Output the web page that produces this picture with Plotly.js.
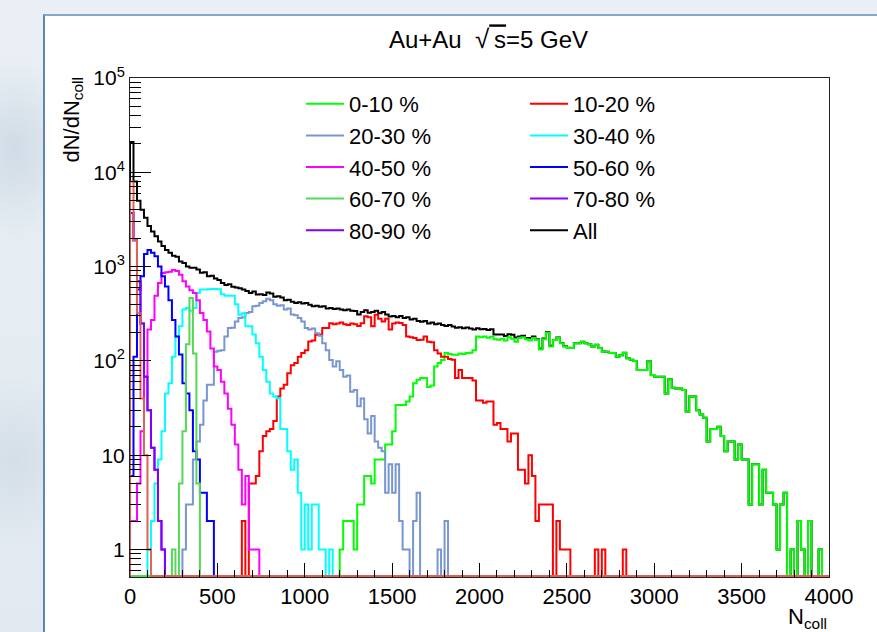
<!DOCTYPE html>
<html>
<head>
<meta charset="utf-8">
<script src="https://cdn.plot.ly/plotly-3.0.1.min.js"></script>
<style>
html, body { margin:0; padding:0; width:877px; height:632px; overflow:hidden;
  background: radial-gradient(ellipse 60px 90px at 15px 150px, #cfdbe6 0%, rgba(207,219,230,0) 100%),
              radial-gradient(ellipse 60px 90px at 15px 460px, #d3dee8 0%, rgba(211,222,232,0) 100%),
              linear-gradient(180deg, #e9eff4 0%, #e2e9f0 100%); }
#panel { position:absolute; left:43px; top:14px; width:834px; height:618px;
  border-left:2px solid #5d86b0; border-top:2px solid #86a8c8; background:#ffffff; }
#chart { position:absolute; left:0; top:0; width:832px; height:616px; }
</style>
</head>
<body>
<div id="panel"><div id="chart"></div></div>
<script>
// ---------------- data (histograms of N_coll, bin width 20) ----------------
const binWidth = 20;
const xMin = 0;
const xMax = 4000;

const c0_10_first = 1200;
const c0_10 = [
  1,2,2,2,1,3,3,6,6,5,
  9,9,9,13,13,18,34,34,34,37,
  42,58,63,66,66,53,55,87,95,102,
  121,118,116,116,120,118,121,122,130,182,
  178,182,176,180,170,168,172,165,178,172,
  160,175,178,170,165,175,168,132,170,198,
  142,167,175,154,142,137,137,154,154,160,
  154,150,142,147,137,125,125,121,121,111,
  115,121,107,103,100,80,80,80,99,71,
  68,68,68,45,64,52,51,51,49,29,
  42,42,30,27,25,14,19,19,20,16,
  11,14,14,9,13,9,9,3,8,8,
  3,7,4,4,3,1,3,4,0,1,
  0,2,1,0,2,0,0,1];

const c10_20_first = 640;
const c10_20 = [
  2,0,5,5,6,11,16,18,19,23,
  42,51,56,74,90,95,111,121,130,161,
  165,189,190,223,223,251,245,250,255,245,
  240,250,245,235,251,297,290,233,308,280,
  262,280,215,250,255,252,240,182,178,175,
  167,168,182,160,158,130,120,111,111,105,
  103,66,80,66,66,66,62,38,38,36,
  37,37,21,22,19,19,14,17,17,7,
  7,5,10,6,2,3,3,3,3,0,
  2,1,1,1,0,0,0,0,0,0,
  0,1,0,1,0,0,0,0,0,1];

const c20_30_first = 300;
const c20_30 = [
  1,3,3,9,14,21,38,56,56,125,
  128,130,182,223,225,262,285,290,322,330,
  380,385,410,430,455,440,400,385,390,350,
  360,310,305,285,262,223,215,220,197,185,
  154,130,102,87,99,80,68,70,47,49,
  33,40,24,17,26,14,12,11,4,8,
  4,8,2,1,1,0,2,4,0,0,
  0,0,0,1,0,2];

const c30_40_first = 100;
const c30_40 = [
  1,2,5,9,18,45,58,111,182,233,
  350,365,340,365,525,570,570,575,580,580,
  575,510,490,490,490,400,308,320,233,233,
  190,154,111,80,60,45,42,40,19,19,
  11,7,9,4,1,3,1,3,3,1,
  1,0,1];

const c40_50_first = 0;
const c40_50 = [
  2,2,5,18,68,215,272,490,670,855,
  870,880,920,900,820,700,615,560,525,440,
  322,272,205,135,87,80,60,45,31,21,
  13,7,3,6,1,1,1];

const c50_60_first = 0;
const c50_60 = [
  6,111,570,790,1360,1500,1400,1290,1000,790,
  615,440,272,182,117,58,45,30,11,9,
  4,4,2,2];

const c60_70_first = 240;
const c60_70 = [1,0,5,18,150,465,120,5];

const c70_80_first = 0;
const c70_80 = [3700,1900,700,250,68,30,12,7,2,1];

const c80_90_first = 0;
const c80_90 = [3700,1900,700,250,68,30,12,7,2,1];

const c90_100_first = 0;
const c90_100 = [8000,1900,320,40,10,1];

const all_first = 0;
const allEvents = [
  21000,8000,5000,4000,3300,2700,2350,2100,1850,1650,
  1500,1400,1300,1270,1130,1090,1000,975,975,930,
  860,870,790,800,750,720,670,640,650,610,
  600,590,570,550,525,545,505,510,500,530,
  520,480,485,470,440,445,425,410,420,405,
  410,395,380,385,375,380,360,365,355,360,
  350,345,350,340,338,310,330,345,325,330,
  340,320,330,310,295,300,290,300,285,290,
  275,280,265,260,265,250,255,245,250,240,
  235,240,232,225,228,222,226,220,215,222,
  216,218,213,217,191,190,191,184,192,189,
  177,182,185,175,175,181,170,135,173,201,
  145,167,177,155,143,138,137,154,154,160,
  154,150,142,148,137,126,125,121,121,111,
  115,122,107,103,100,80,80,80,99,71,
  68,68,68,45,64,52,51,51,49,29,
  42,42,30,27,25,14,19,19,20,16,
  11,14,14,9,13,9,9,3,8,8,
  3,7,4,4,3,1,3,4,0,1,
  0,2,1,0,2,0,0,1];

const xTickVals = [0,500,1000,1500,2000,2500,3000,3500,4000];
const yTickVals = [1,10,100,1000,10000,100000];
const yTickText = ['1','10','10<sup>2</sup>','10<sup>3</sup>','10<sup>4</sup>','10<sup>5</sup>'];

// ---------------- drawing ----------------
const nBins = Math.round((xMax - xMin) / binWidth);
const yLogRange = [-0.2916, 5.0];
// empty bins: like ROOT on a log scale they sit on the frame bottom; only the
// last-drawn histograms stay visible there, the others are clipped just below.
const floorVal = Math.pow(10, yLogRange[0] + 1.0 / 94.3);
const hiddenVal = Math.pow(10, yLogRange[0] - 0.1);

function stepTrace(name, first, counts, color, opts, onFloor) {
  const zeroVal = onFloor ? floorVal : hiddenVal;
  const full = new Array(nBins).fill(0);
  const i0 = Math.round((first - xMin) / binWidth);
  counts.forEach((c, i) => { full[i0 + i] = c; });
  const xs = [xMin], ys = [zeroVal];
  for (let i = 0; i < nBins; i++) {
    xs.push(xMin + i * binWidth);
    ys.push(full[i] > 0 ? full[i] : zeroVal);
  }
  xs.push(xMax); ys.push(ys[ys.length - 1]);
  xs.push(xMax); ys.push(zeroVal);
  return Object.assign({
    type: 'scatter', mode: 'lines', name: name, x: xs, y: ys,
    line: { shape: 'hv', color: color, width: 2 }, hoverinfo: 'skip'
  }, opts);
}

const traces = [
  stepTrace('All',      all_first,    allEvents, '#000000', { legend: 'legend2', legendrank: 5 }),
  stepTrace('0-10 %',   c0_10_first,  c0_10,  '#00ff00', { legend: 'legend',  legendrank: 1 }),
  stepTrace('10-20 %',  c10_20_first, c10_20, '#ff0000', { legend: 'legend2', legendrank: 1 }),
  stepTrace('20-30 %',  c20_30_first, c20_30, '#7896d0', { legend: 'legend',  legendrank: 2 }),
  stepTrace('30-40 %',  c30_40_first, c30_40, '#00ffff', { legend: 'legend2', legendrank: 2 }),
  stepTrace('40-50 %',  c40_50_first, c40_50, '#ff00ff', { legend: 'legend',  legendrank: 3 }),
  stepTrace('50-60 %',  c50_60_first, c50_60, '#0000ff', { legend: 'legend2', legendrank: 3 }),
  stepTrace('60-70 %',  c60_70_first, c60_70, '#55d855', { legend: 'legend',  legendrank: 4 }, true),
  stepTrace('70-80 %',  c70_80_first, c70_80, '#9000ff', { legend: 'legend2', legendrank: 4 }),
  stepTrace('80-90 %',  c80_90_first, c80_90, '#8000ff', { legend: 'legend',  legendrank: 5 }),
  stepTrace('90-100 %', c90_100_first, c90_100, '#de6355', { showlegend: false }, true)
];

const yMinor = [];
for (let k = -1; k <= 4; k++) for (let d = 2; d <= 9; d++) {
  const v = d * Math.pow(10, k);
  if (Math.log10(v) > yLogRange[0] && Math.log10(v) < yLogRange[1]) yMinor.push(v);
}

const FONT = 'Liberation Sans, Arial, Helvetica, sans-serif';
const plotL = 85, plotW = 699, plotT = 62, plotH = 499, figW = 832, figH = 616;
const px2x = p => (p - 45 - plotL) / plotW;        // page px -> paper x
const px2y = p => 1 - (p - 16 - plotT) / plotH;    // page px -> paper y

const legendCommon = {
  bgcolor: 'rgba(0,0,0,0)', borderwidth: 0, orientation: 'v',
  font: { family: FONT, size: 22, color: '#000' },
  itemwidth: 38, tracegroupgap: 0, xanchor: 'left', yanchor: 'top', traceorder: 'normal'
};

const layout = {
  width: figW, height: figH,
  margin: { l: plotL, r: 48, t: plotT, b: 55, pad: 0 },
  paper_bgcolor: '#ffffff', plot_bgcolor: '#ffffff',
  font: { family: FONT, size: 21, color: '#000' },
  title: {
    text: 'Au+Au\u00a0\u00a0<span style="font-size:26px">√</span><span style="text-decoration:overline">\u2009s</span>=5 GeV',
    xref: 'paper', x: px2x(488.5), xanchor: 'center',
    yref: 'container', y: 1 - (40 - 16) / figH, yanchor: 'middle',
    font: { family: FONT, size: 24, color: '#000' }
  },
  xaxis: {
    range: [xMin, xMax], tickmode: 'array', tickvals: xTickVals,
    ticks: 'inside', ticklen: 14, tickwidth: 1, tickcolor: '#000',
    showline: true, linecolor: '#222', linewidth: 1, mirror: true,
    showgrid: false, zeroline: false,
    tickfont: { family: FONT, size: 22, color: '#000' },
    minor: { ticks: 'inside', ticklen: 7, tickwidth: 1, tickcolor: '#000', dtick: 100, tick0: 0, showgrid: false }
  },
  yaxis: {
    type: 'log', range: yLogRange, tickmode: 'array', tickvals: yTickVals, ticktext: yTickText,
    ticks: 'inside', ticklen: 21, tickwidth: 1, tickcolor: '#000',
    showline: true, linecolor: '#222', linewidth: 1, mirror: true,
    showgrid: false, zeroline: false,
    tickfont: { family: FONT, size: 21, color: '#000' },
    minor: { tickmode: 'array', tickvals: yMinor, ticks: 'inside', ticklen: 11, tickwidth: 1, tickcolor: '#000', showgrid: false }
  },
  showlegend: true,
  legend:  Object.assign({}, legendCommon, { x: px2x(301), y: px2y(83) }),
  legend2: Object.assign({}, legendCommon, { x: px2x(525), y: px2y(83) }),
  annotations: [
    { text: 'dN/dN<sub>coll</sub>', xref: 'paper', yref: 'paper', x: px2x(72), y: px2y(75),
      xanchor: 'center', yanchor: 'top', textangle: -90, showarrow: false,
      font: { family: FONT, size: 22, color: '#000' } },
    { text: 'N<sub>coll</sub>', xref: 'paper', yref: 'paper', x: 1.0, y: px2y(602),
      xanchor: 'right', yanchor: 'top', showarrow: false,
      font: { family: FONT, size: 22, color: '#000' } }
  ]
};

Plotly.newPlot('chart', traces, layout, { staticPlot: true, displayModeBar: false });
</script>
</body>
</html>
